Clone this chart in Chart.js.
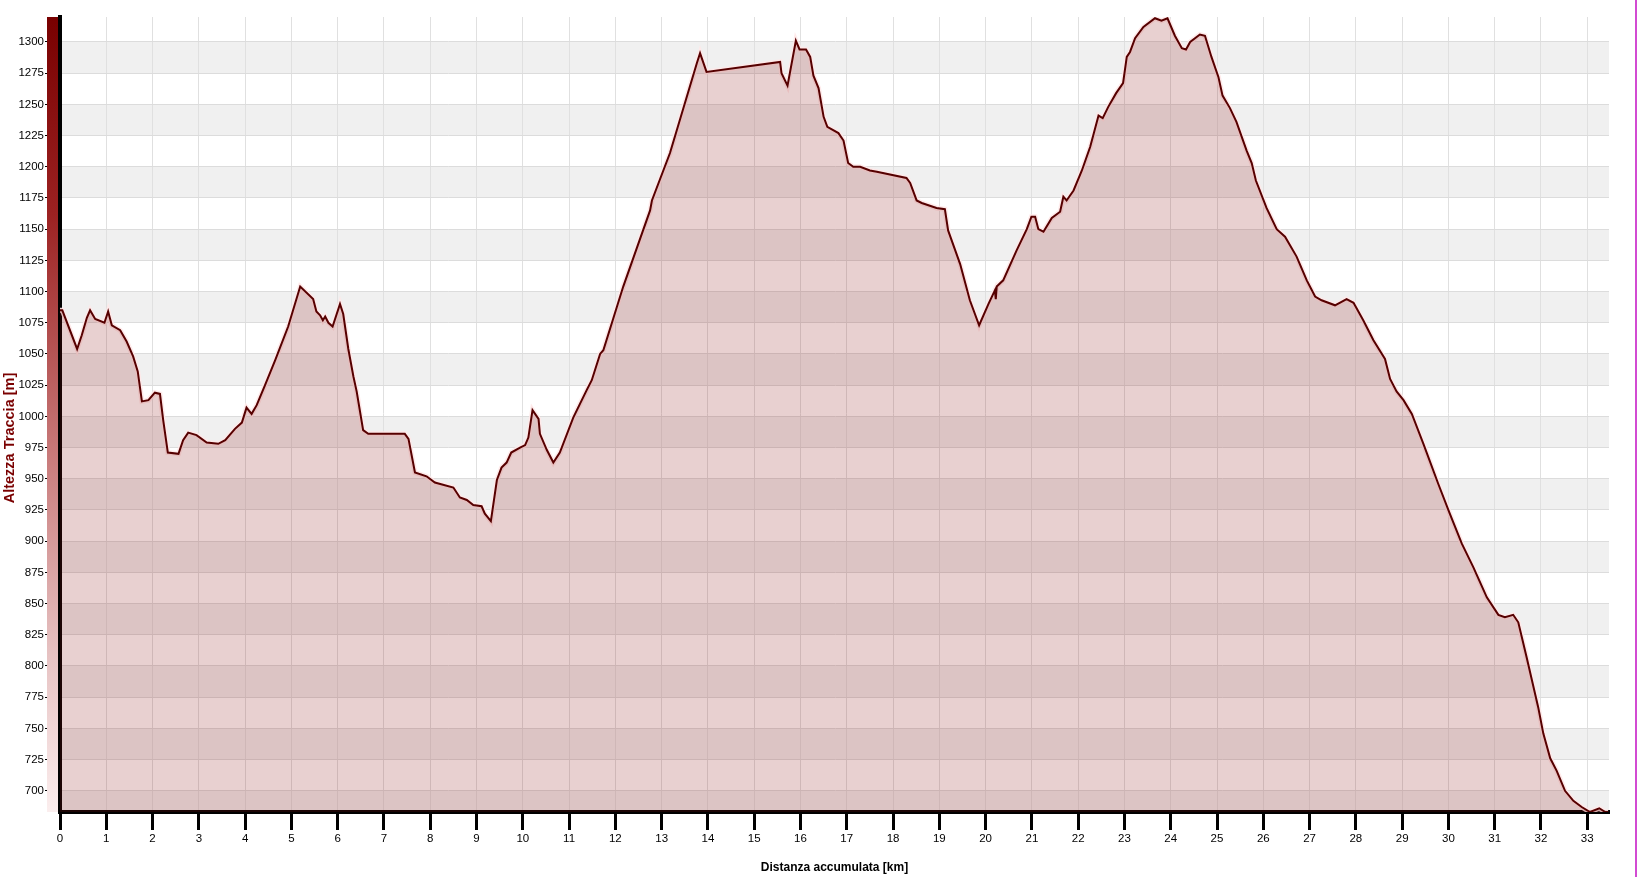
<html>
  <head>
    <script src="https://cdn.jsdelivr.net/npm/chart.js@4.4.0/dist/chart.umd.min.js"></script>
    <style>
      body { margin: 0; background: #fff; }
    </style>
  </head>
  <body>
    <canvas id="profileChart" width="1638" height="877"></canvas>
    <script>
      // distanza accumulata [km]
      const distKm = [
        0.00, 0.05, 0.37, 0.47, 0.58, 0.65, 0.76, 0.96, 1.04, 1.12, 1.30, 1.44, 1.58, 1.68, 1.77, 1.91,
        2.05, 2.16, 2.23, 2.33, 2.56, 2.66, 2.77, 2.95, 3.17, 3.42, 3.57, 3.78, 3.93, 4.03, 4.14, 4.25,
        4.43, 4.65, 4.93, 5.19, 5.47, 5.54, 5.62, 5.68, 5.73, 5.80, 5.89, 6.05, 6.12, 6.23, 6.34, 6.41,
        6.55, 6.66, 7.45, 7.53, 7.67, 7.92, 8.10, 8.50, 8.64, 8.79, 8.93, 9.11, 9.18, 9.31, 9.44, 9.54,
        9.65, 9.75, 9.94, 10.05, 10.12, 10.21, 10.34, 10.37, 10.52, 10.66, 10.80, 11.09, 11.38, 11.49,
        11.67, 11.74, 12.17, 12.75, 12.79, 13.18, 13.76, 13.83, 13.97, 15.56, 15.59, 15.72, 15.90, 15.98,
        16.12, 16.21, 16.28, 16.39, 16.50, 16.58, 16.82, 16.93, 17.03, 17.14, 17.29, 17.50, 17.65, 18.29,
        18.37, 18.51, 18.62, 18.94, 19.12, 19.19, 19.45, 19.66, 19.86, 20.06, 20.20, 20.22, 20.24, 20.38,
        20.67, 20.89, 20.99, 21.07, 21.14, 21.25, 21.43, 21.61, 21.68, 21.75, 21.90, 22.08, 22.26, 22.44,
        22.53, 22.65, 22.82, 22.97, 23.05, 23.12, 23.23, 23.41, 23.66, 23.80, 23.93, 24.09, 24.24, 24.33,
        24.42, 24.63, 24.74, 24.88, 25.03, 25.12, 25.28, 25.42, 25.64, 25.75, 25.84, 26.07, 26.29, 26.47,
        26.72, 26.94, 27.12, 27.26, 27.55, 27.80, 27.95, 28.16, 28.38, 28.63, 28.74, 28.88, 29.03, 29.21,
        29.46, 29.78, 30.03, 30.29, 30.54, 30.83, 31.08, 31.22, 31.40, 31.51, 31.69, 31.94, 32.05, 32.20,
        32.34, 32.52, 32.70, 32.88, 33.06, 33.26, 33.39, 33.45
      ];
      // altezza traccia [m]
      const altM = [
        1085, 1085, 1054, 1065, 1079, 1085, 1078, 1075, 1084, 1073, 1069, 1060, 1048, 1036, 1012, 1013,
        1019, 1018, 997, 971, 970, 981, 987, 985, 979, 978, 981, 990, 995, 1007, 1002, 1009,
        1025, 1045, 1072, 1104, 1094, 1084, 1081, 1077, 1080, 1075, 1072, 1090, 1082, 1054, 1032, 1020,
        989, 986, 986, 982, 955, 952, 947, 943, 935, 933, 929, 928, 922, 916, 949, 959,
        963, 971, 975, 977, 983, 1005, 998, 986, 973, 963, 971, 999, 1021, 1029,
        1050, 1053, 1104, 1165, 1173, 1211, 1283, 1291, 1276, 1284, 1275, 1265, 1301, 1294,
        1294, 1288, 1273, 1263, 1240, 1232, 1227, 1221, 1203, 1200, 1200, 1197, 1196, 1191,
        1187, 1173, 1171, 1167, 1166, 1149, 1122, 1093, 1073, 1090, 1101, 1094, 1104, 1109,
        1133, 1150, 1160, 1160, 1150, 1148, 1159, 1164, 1176, 1173, 1181, 1197, 1216, 1241,
        1239, 1248, 1259, 1267, 1288, 1292, 1303, 1312, 1319, 1317, 1319, 1305, 1295, 1294,
        1300, 1306, 1305, 1288, 1272, 1257, 1247, 1236, 1213, 1203, 1189, 1167, 1150, 1144,
        1128, 1109, 1096, 1093, 1089, 1094, 1091, 1077, 1061, 1046, 1030, 1020, 1013, 1002,
        978, 946, 922, 898, 879, 855, 841, 839, 841, 835, 807, 767, 746, 726,
        716, 700, 692, 687, 683, 686, 683, 683
      ];

      const yMin = 683;
      const yMax = 1320;
      const yStep = 25;
      const xMax = 33.47;

      const profile = distKm.map(function(d, i) { return { x: d, y: altM[i] }; });

      const tickFont = { family: 'Liberation Sans', size: 11.5 };
      const titleFont = { family: 'Liberation Sans', size: 12, weight: 'bold' };

      // grey bands every other 25 m, under everything
      const bandsPlugin = {
        id: 'bands',
        beforeDraw: function(chart) {
          const ctx = chart.ctx;
          const area = chart.chartArea;
          const y = chart.scales.y;
          ctx.save();
          ctx.fillStyle = '#f0f0f0';
          for (let v = Math.floor(yMin / yStep) * yStep; v < yMax; v += yStep) {
            if ((v / yStep) % 2 !== 1) continue;
            const top = Math.max(y.getPixelForValue(v + yStep), area.top);
            const bot = Math.min(y.getPixelForValue(v), area.bottom);
            if (bot > top) ctx.fillRect(area.left, top, area.right - area.left, bot - top);
          }
          ctx.restore();
        }
      };

      // red gradient bar beside the y axis, rotated axis title, frame edge
      const decoPlugin = {
        id: 'deco',
        afterDraw: function(chart) {
          const ctx = chart.ctx;
          const area = chart.chartArea;
          ctx.save();
          const g = ctx.createLinearGradient(0, area.top, 0, area.bottom);
          g.addColorStop(0, '#780000');
          g.addColorStop(0.25, '#9c2222');
          g.addColorStop(0.55, '#c87a7a');
          g.addColorStop(0.8, '#e6c2c2');
          g.addColorStop(1, '#fbeeee');
          ctx.fillStyle = g;
          ctx.fillRect(area.left - 13, area.top, 11, area.bottom - area.top);

          ctx.translate(10, 438);
          ctx.rotate(-Math.PI / 2);
          ctx.fillStyle = '#7a0000';
          ctx.font = 'bold 14.5px "Liberation Sans"';
          ctx.textAlign = 'center';
          ctx.textBaseline = 'middle';
          ctx.fillText('Altezza Traccia [m]', 0, 0);
          ctx.restore();

          ctx.save();
          ctx.fillStyle = '#d24bd2';
          ctx.fillRect(chart.width - 3, 0, 2, chart.height);
          ctx.restore();
        }
      };

      window.onload = function() {
        const ctx = document.getElementById('profileChart');
        window.profileChart = new Chart(ctx, {
          type: 'line',
          data: {
            datasets: [
              {
                data: profile,
                borderColor: '#560000',
                borderWidth: 2,
                backgroundColor: 'rgba(140, 20, 20, 0.2)',
                fill: 'start',
                pointRadius: 0,
                tension: 0
              },
              {
                data: profile,
                borderColor: 'rgba(255, 232, 232, 0.9)',
                borderWidth: 5,
                fill: false,
                pointRadius: 0,
                tension: 0
              }
            ]
          },
          options: {
            responsive: false,
            animation: false,
            devicePixelRatio: 1,
            layout: { padding: { top: 17, right: 29, left: 0, bottom: 0 } },
            plugins: {
              legend: { display: false },
              tooltip: { enabled: false }
            },
            scales: {
              x: {
                type: 'linear',
                min: 0,
                max: xMax,
                afterFit: function(s) { s.height = 65; },
                ticks: {
                  stepSize: 1,
                  includeBounds: false,
                  autoSkip: false,
                  maxRotation: 0,
                  padding: 2,
                  color: '#000',
                  font: tickFont
                },
                grid: {
                  color: '#e0e0e0',
                  lineWidth: 1,
                  tickColor: '#000',
                  tickWidth: 3,
                  tickLength: 18
                },
                border: { color: '#000', width: 4 },
                title: {
                  display: true,
                  text: 'Distanza accumulata [km]',
                  color: '#000',
                  font: titleFont,
                  padding: { top: 0, bottom: 2 }
                }
              },
              y: {
                min: yMin,
                max: yMax,
                afterFit: function(s) { s.width = 60; },
                ticks: {
                  stepSize: yStep,
                  includeBounds: false,
                  padding: 1,
                  color: '#000',
                  font: tickFont,
                  callback: function(v) { return String(v); }
                },
                grid: {
                  color: '#dcdcdc',
                  lineWidth: 1,
                  tickColor: '#000',
                  tickWidth: 1,
                  tickLength: 15
                },
                border: { color: '#000', width: 4 }
              }
            }
          },
          plugins: [bandsPlugin, decoPlugin]
        });
      };
    </script>
  </body>
</html>
